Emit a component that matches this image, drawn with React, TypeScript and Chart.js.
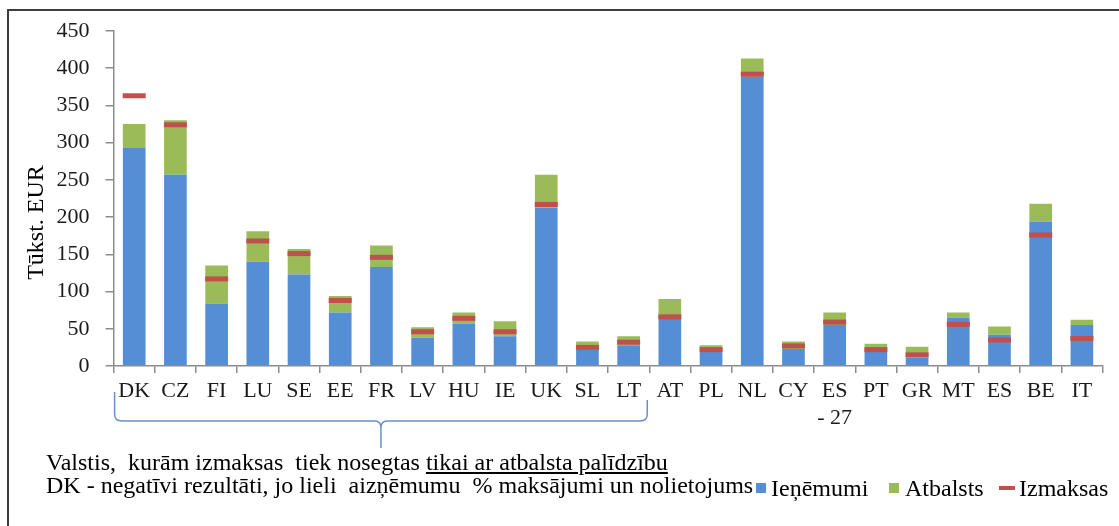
import React, { useEffect, useRef } from 'react';
import { Chart, registerables } from 'chart.js';

Chart.register(...registerables);

const categories: (string | string[])[] = ['DK', 'CZ', 'FI', 'LU', 'SE', 'EE', 'FR', 'LV', 'HU', 'IE', 'UK', 'SL', 'LT', 'AT', 'PL', 'NL', 'CY', ['ES', '- 27'], 'PT', 'GR', 'MT', 'ES', 'BE', 'IT'];
const ienemumi = [293, 257, 84, 140, 123, 72, 133, 38, 57, 40, 213, 22, 28, 63, 19, 389, 23, 55, 19, 11, 65, 42, 194, 55];
const atbalsts = [32, 73, 51, 41, 34, 22, 29, 14, 15, 20, 44, 11, 12, 27, 9, 24, 10, 17, 11, 15, 7, 11, 24, 7];
const izmaksas = [363, 324, 117, 168, 151, 88, 146, 46, 64, 46, 217, 25, 32, 66, 22, 392, 27, 59, 22, 15, 56, 35, 176, 37];
const yTicks = [0, 50, 100, 150, 200, 250, 300, 350, 400, 450];
const yTitle = 'Tūkst. EUR';
const braceFirst = 0;
const braceLast = 12;

const FONT = "'Liberation Serif', 'Times New Roman', serif";
const BLUE = '#558ED5';
const GREEN = '#9BBB59';
const RED = '#C0504D';
const AXIS = '#8c8c8c';

const bracePlugin = {
  id: 'brace',
  afterDraw(chart: any) {
    const x = chart.scales.x;
    const ctx = chart.ctx;
    const b = chart.chartArea.bottom;
    const half = (x.getPixelForValue(1) - x.getPixelForValue(0)) / 2;
    const l = x.getPixelForValue(braceFirst) - half + 1;
    const r = x.getPixelForValue(braceLast) + half - 2;
    const m = (l + r) / 2;
    const yTopL = b + 26;
    const yTopR = b + 34;
    const yH = b + 55;
    const yTip = b + 82;
    ctx.save();
    ctx.strokeStyle = '#6a90c8';
    ctx.lineWidth = 1.5;
    ctx.beginPath();
    ctx.moveTo(l, yTopL);
    ctx.lineTo(l, yH - 7);
    ctx.quadraticCurveTo(l, yH, l + 7, yH);
    ctx.lineTo(m - 6, yH);
    ctx.quadraticCurveTo(m, yH, m, yH + 7);
    ctx.lineTo(m, yTip);
    ctx.moveTo(m, yH + 7);
    ctx.quadraticCurveTo(m, yH, m + 6, yH);
    ctx.lineTo(r - 7, yH);
    ctx.quadraticCurveTo(r, yH, r, yH - 7);
    ctx.lineTo(r, yTopR);
    ctx.stroke();

    // y-axis title
    const ya = chart.scales.y;
    const cy = (ya.top + ya.bottom) / 2 + 24;
    ctx.translate(37, cy);
    ctx.rotate(-Math.PI / 2);
    ctx.font = `24px ${FONT}`;
    ctx.fillStyle = '#000';
    ctx.textAlign = 'center';
    ctx.textBaseline = 'middle';
    ctx.fillText(yTitle, 0, 0);
    ctx.restore();
  },
};

export default function App() {
  const ref = useRef<HTMLCanvasElement>(null);

  useEffect(() => {
    if (!ref.current) return;
    const chart = new Chart(ref.current, {
      type: 'bar',
      data: {
        labels: categories as any,
        datasets: [
          {
            type: 'line' as any,
            label: 'Izmaksas',
            data: izmaksas,
            stack: 'izm',
            showLine: false,
            pointStyle: 'line',
            pointRadius: 11.5,
            pointHoverRadius: 11.5,
            pointBorderWidth: 5,
            pointBorderColor: RED,
            borderColor: RED,
            backgroundColor: RED,
            order: 0,
          } as any,
          {
            label: 'Ieņēmumi',
            data: ienemumi,
            backgroundColor: BLUE,
            stack: 'a',
            barPercentage: 0.55,
            categoryPercentage: 1,
            order: 1,
          },
          {
            label: 'Atbalsts',
            data: atbalsts,
            backgroundColor: GREEN,
            stack: 'a',
            barPercentage: 0.55,
            categoryPercentage: 1,
            order: 2,
          },
        ],
      },
      options: {
        responsive: false,
        animation: false,
        devicePixelRatio: 1,
        layout: { padding: { left: 0, right: 13, top: 31, bottom: 0 } },
        plugins: {
          legend: { display: false },
          tooltip: { enabled: false },
        },
        scales: {
          x: {
            stacked: true,
            offset: true,
            ticks: {
              font: { family: FONT, size: 22, lineHeight: 1.22 },
              color: '#1a1a1a',
              padding: 5,
              maxRotation: 0,
              autoSkip: false,
            },
            grid: { offset: true, drawOnChartArea: false, drawTicks: true, tickLength: 7, color: AXIS, lineWidth: 1.5 },
            border: { color: AXIS, width: 1.5 },
            afterFit: (s: any) => {
              s.height = 160;
            },
          },
          y: {
            stacked: true,
            min: 0,
            max: 450,
            afterBuildTicks: (s: any) => {
              s.ticks = yTicks.map((v) => ({ value: v }));
            },
            ticks: {
              font: { family: FONT, size: 22 },
              color: '#1a1a1a',
              padding: 16,
            },
            grid: { drawOnChartArea: false, drawTicks: true, tickLength: 8, color: AXIS, lineWidth: 1.5 },
            border: { color: AXIS, width: 1.5 },
            afterFit: (s: any) => {
              s.width = 113.6;
            },
          },
        },
      },
      plugins: [bracePlugin],
    });
    return () => chart.destroy();
  }, []);

  const text: React.CSSProperties = {
    position: 'absolute',
    fontFamily: FONT,
    fontSize: 24,
    lineHeight: '24px',
    whiteSpace: 'pre',
    color: '#000',
  };

  return (
    <div>
      <canvas ref={ref} width={1119} height={526} style={{ position: 'absolute', left: 0, top: 0, display: 'block' }} />
      <div
        style={{
          position: 'absolute',
          left: 7,
          top: 9,
          width: 1110,
          height: 515,
          borderTop: '2.5px solid #3d3d3d',
          borderLeft: '2px solid #3d3d3d',
          pointerEvents: 'none',
        }}
      />
      <div style={{ ...text, left: 46, top: 450 }}>
        {'Valstis,  kurām izmaksas  tiek nosegtas '}
        <span style={{ textDecoration: 'underline' }}>tikai ar atbalsta palīdzību</span>
      </div>
      <div style={{ ...text, left: 46, top: 473 }}>
        {'DK - negatīvi rezultāti, jo lieli  aizņēmumu  % maksājumi un nolietojums'}
      </div>
      <div style={{ position: 'absolute', left: 756, top: 483, width: 10, height: 10, background: BLUE }} />
      <div style={{ ...text, left: 771, top: 476 }}>Ieņēmumi</div>
      <div style={{ position: 'absolute', left: 889, top: 483, width: 10, height: 10, background: GREEN }} />
      <div style={{ ...text, left: 905, top: 476 }}>Atbalsts</div>
      <div style={{ position: 'absolute', left: 999, top: 486, width: 16, height: 4, background: RED }} />
      <div style={{ ...text, left: 1019, top: 476 }}>Izmaksas</div>
    </div>
  );
}
